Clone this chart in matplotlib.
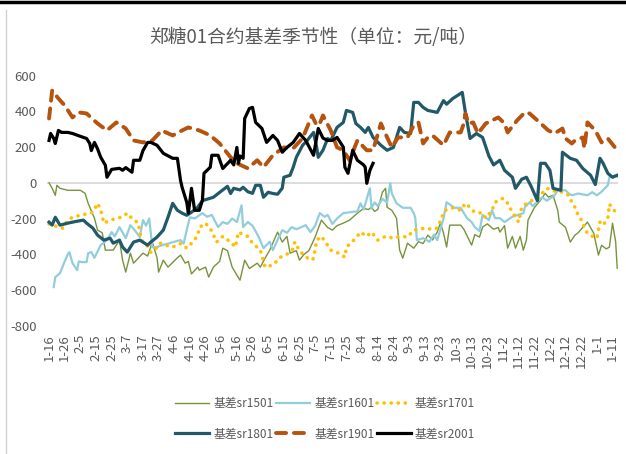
import matplotlib
matplotlib.use("Agg")
import matplotlib.pyplot as plt
from matplotlib.lines import Line2D

title = "郑糖01合约基差季节性（单位：元/吨）"
tick_labels = ["1-16", "1-26", "2-5", "2-15", "2-25", "3-7", "3-17", "3-27", "4-6", "4-16",
               "4-26", "5-6", "5-16", "5-26", "6-5", "6-15", "6-25", "7-5", "7-15", "7-25",
               "8-4", "8-14", "8-24", "9-3", "9-13", "9-23", "10-3", "10-13", "10-23", "11-2",
               "11-12", "11-22", "12-2", "12-12", "12-22", "1-1", "1-11"]
tick_days = list(range(0, 361, 10))
yticks = [600, 400, 200, 0, -200, -400, -600, -800]

# day offsets (days since 1-16) and basis values
sr1501_d = [0, 2, 4, 5, 7, 12, 20, 23, 25, 29, 31, 34, 36, 41, 45, 47, 49, 52, 54, 60, 63, 66, 69, 70,
            73, 76, 82, 84, 87, 89, 91, 95, 96, 100, 102, 105, 109, 111, 114, 117, 120, 122, 125,
            128, 133, 135, 138, 141, 146, 149, 152, 154, 158, 160, 163, 166, 170, 174, 178, 181,
            184, 188, 192, 197, 201, 204, 206, 208, 210, 213, 215, 216, 219, 222, 224, 226, 229,
            233, 236, 239, 242, 245, 248, 250, 252, 254, 256, 263, 265, 270, 272, 275, 277, 280,
            284, 287, 288, 291, 293, 296, 298, 301, 303, 305, 306, 310, 314, 317, 319, 322, 325,
            326, 330, 333, 336, 338, 344, 348, 351, 353, 356, 358, 360, 362, 363]
sr1501_v = [0, -31, -70, -14, -31, -42, -42, -59, -115, -198, -265, -280, -377, -377, -321, -433,
            -500, -394, -450, -394, -410, -332, -420, -500, -433, -472, -420, -405, -450, -440,
            -510, -472, -489, -472, -528, -472, -440, -366, -380, -472, -517, -545, -433, -480,
            -450, -472, -422, -377, -276, -332, -300, -394, -380, -433, -400, -380, -304, -209,
            -250, -265, -240, -226, -209, -170, -143, -150, -137, -160, -150, -53, -31, -137,
            -154, -198, -377, -422, -338, -366, -330, -340, -293, -320, -276, -226, -280, -360,
            -237, -237, -260, -349, -290, -304, -248, -230, -260, -250, -276, -240, -366, -300,
            -366, -300, -377, -320, -209, -140, -98, -59, -80, -70, -154, -220, -250, -332, -293,
            -280, -220, -282, -405, -350, -370, -360, -226, -330, -478]

sr1601_d = [3, 4, 7, 10, 12, 13, 15, 18, 19, 21, 24, 25, 27, 29, 33, 37, 40, 42, 45, 49, 52, 56, 58,
            60, 62, 64, 66, 69, 72, 77, 80, 84, 86, 89, 90, 93, 98, 101, 104, 108, 111, 114, 117,
            120, 123, 124, 127, 130, 134, 137, 141, 143, 146, 149, 152, 155, 158, 164, 167, 170,
            173, 176, 178, 181, 184, 188, 192, 197, 199, 201, 204, 205, 206, 208, 210, 213, 216,
            218, 219, 222, 226, 231, 233, 234, 235, 239, 243, 246, 248, 252, 254, 259, 263, 267,
            270, 272, 275, 277, 281, 283, 285, 288, 291, 296, 303, 304, 307, 309, 315, 318, 323,
            325, 330, 332, 334, 338, 344, 347, 350, 353, 357, 358, 362, 363]
sr1601_v = [-584, -528, -506, -440, -400, -388, -450, -489, -440, -444, -444, -394, -388, -420,
            -349, -321, -276, -300, -248, -310, -237, -280, -304, -209, -240, -200, -360, -360,
            -350, -338, -330, -321, -340, -226, -193, -200, -170, -190, -180, -248, -220, -230,
            -200, -220, -126, -248, -220, -240, -304, -366, -330, -377, -320, -265, -280, -248,
            -260, -237, -276, -240, -170, -190, -180, -230, -200, -170, -165, -160, -115, -150,
            -59, -31, -143, -110, -130, -90, -110, -3, -60, -115, -140, -140, -170, -198, -321,
            -310, -330, -290, -321, -200, -109, -140, -140, -198, -220, -248, -270, -180, -209,
            -154, -198, -198, -220, -190, -170, -137, -109, -130, -81, -100, -70, -42, -42, -60,
            -70, -60, -70, -53, -70, -50, -14, 31, 42, 35]

sr1701_d = [0, 3, 6, 9, 12, 15, 20, 26, 28, 31, 33, 35, 39, 43, 47, 50, 53, 57, 59, 63, 65, 68, 71,
            75, 79, 84, 88, 92, 95, 96, 100, 104, 107, 111, 116, 119, 121, 124, 127, 130, 135, 138,
            143, 148, 152, 156, 157, 160, 164, 168, 169, 171, 174, 178, 180, 184, 189, 190, 196,
            199, 203, 206, 210, 215, 220, 225, 229, 233, 240, 245, 248, 251, 253, 258, 263, 266,
            268, 270, 272, 277, 279, 283, 285, 290, 293, 296, 300, 302, 306, 312, 318, 322, 328,
            332, 334, 336, 338, 341, 342, 344, 348, 350, 351, 352, 354, 357, 358, 362]
sr1701_v = [-230, -237, -250, -254, -209, -193, -182, -170, -165, -115, -150, -226, -209, -200,
            -190, -170, -200, -226, -321, -355, -390, -370, -338, -350, -360, -340, -366, -330,
            -293, -250, -226, -270, -332, -300, -332, -360, -276, -290, -300, -338, -377, -472,
            -460, -416, -400, -370, -332, -380, -416, -433, -422, -321, -300, -350, -377, -390,
            -416, -360, -310, -276, -300, -276, -321, -300, -310, -300, -304, -265, -254, -260,
            -254, -193, -154, -140, -154, -115, -130, -150, -165, -170, -198, -154, -109, -87,
            -115, -165, -220, -137, -109, -87, -31, -45, -53, -70, -109, -137, -182, -220, -254,
            -282, -304, -310, -265, -220, -237, -198, -120, -165]

sr1801_d = [0, 2, 4, 7, 12, 18, 22, 24, 28, 31, 35, 39, 41, 45, 47, 50, 54, 58, 63, 65, 69, 73, 76,
            79, 82, 85, 88, 91, 95, 98, 105, 111, 114, 116, 118, 122, 124, 127, 130, 132, 135, 137,
            140, 143, 146, 149, 150, 154, 156, 158, 162, 165, 167, 169, 171, 172, 175, 178, 180,
            184, 188, 190, 194, 196, 199, 202, 204, 207, 212, 216, 220, 224, 227, 231, 233, 236,
            239, 242, 248, 252, 254, 258, 264, 266, 269, 273, 277, 281, 284, 288, 291, 296, 298,
            302, 305, 308, 312, 314, 317, 320, 322, 327, 328, 333, 337, 341, 346, 349, 352, 354,
            357, 360, 363]
sr1801_v = [-220, -237, -193, -237, -226, -215, -209, -226, -254, -293, -321, -310, -338, -321,
            -360, -388, -332, -321, -349, -332, -304, -265, -193, -115, -154, -170, -182, -165,
            -137, -100, -81, -40, -20, -60, -31, -40, -25, -50, -59, -14, -14, -81, -53, -60, -64,
            -30, 31, 42, 87, 143, 210, 237, 260, 282, 198, 143, 182, 248, 237, 310, 338, 405, 394,
            332, 310, 282, 310, 254, 210, 182, 198, 310, 282, 276, 450, 450, 422, 405, 394, 460,
            440, 472, 506, 394, 248, 276, 254, 150, 100, 126, 70, 31, -31, 20, 31, -20, -100, 109,
            109, 70, -31, -42, 171, 137, 126, 80, 42, -10, 137, 109, 53, 31, 42]

sr1901_d = [0, 2, 6, 10, 15, 19, 24, 31, 37, 43, 49, 54, 60, 66, 72, 79, 85, 89, 96, 103, 109, 116,
            120, 127, 133, 137, 143, 150, 156, 162, 168, 171, 173, 175, 180, 184, 188, 192, 197,
            203, 207, 212, 216, 219, 223, 229, 233, 236, 239, 242, 245, 252, 256, 263, 265, 266,
            268, 271, 274, 279, 283, 287, 291, 293, 299, 304, 307, 312, 319, 323, 328, 330, 334,
            336, 341, 342, 344, 349, 353, 357, 362]
sr1901_v = [360, 517, 472, 433, 366, 394, 388, 332, 293, 338, 304, 237, 226, 237, 293, 265, 293,
            310, 293, 265, 220, 143, 109, 81, 126, 87, 154, 198, 193, 249, 377, 321, 332, 377, 293,
            198, 182, 126, 237, 182, 182, 332, 254, 198, 254, 254, 321, 338, 220, 254, 265, 210,
            282, 282, 332, 388, 332, 338, 276, 332, 349, 366, 332, 282, 349, 394, 388, 349, 293,
            276, 304, 248, 220, 237, 254, 193, 338, 293, 226, 248, 193]

sr2001_d = [0, 1, 3, 4, 6, 8, 12, 15, 20, 24, 26, 27, 29, 31, 33, 36, 37, 40, 45, 47, 49, 53, 54, 58,
            60, 63, 65, 69, 73, 79, 82, 84, 85, 88, 89, 91, 93, 96, 98, 99, 103, 104, 108, 111, 116,
            118, 120, 121, 122, 124, 125, 128, 130, 132, 136, 139, 143, 146, 149, 152, 156, 160,
            164, 169, 172, 175, 178, 181, 184, 188, 189, 191, 194, 197, 201, 202, 203, 205, 207]
sr2001_v = [237, 276, 248, 220, 293, 282, 282, 276, 260, 248, 220, 180, 226, 190, 143, 98, 31, 75,
            81, 70, 85, 59, 126, 126, 180, 226, 226, 210, 165, 137, 137, 14, -25, -110, -170, -31,
            -154, -154, -98, 53, 87, 154, 154, 80, 126, 100, 198, 109, 150, 137, 360, 416, 422, 338,
            304, 226, 265, 237, 171, 198, 226, 276, 237, 154, 304, 250, 237, 237, 254, 200, 87, 53,
            182, 126, 100, 87, -3, 70, 109]

series = [
    ("基差sr1501", sr1501_d, sr1501_v, dict(color="#77933C", lw=1.0, ls="-")),
    ("基差sr1601", sr1601_d, sr1601_v, dict(color="#92CDDC", lw=1.6, ls="-")),
    ("基差sr1701", sr1701_d, sr1701_v, dict(color="#FFC000", lw=2.6, ls=(0, (0.05, 1.9)),
                                           dash_capstyle="round")),
    ("基差sr1801", sr1801_d, sr1801_v, dict(color="#215968", lw=2.3, ls="-")),
    ("基差sr1901", sr1901_d, sr1901_v, dict(color="#B5530F", lw=2.8, ls=(0, (2.6, 2.0)),
                                           dash_capstyle="round")),
    ("基差sr2001", sr2001_d, sr2001_v, dict(color="#000000", lw=2.3, ls="-")),
]

gray = "#595959"
latin = ["Liberation Sans Narrow", "Noto Sans CJK SC", "DejaVu Sans"]
plt.rcParams["font.family"] = latin

fig = plt.figure(figsize=(6.26, 4.54), dpi=100)
ax = fig.add_axes([47 / 626, 1 - 325.7 / 454, (618 - 47) / 626, (325.7 - 75.6) / 454])

ax.axhline(0, color="#D9D9D9", lw=1.3, zorder=1)
handles = []
for name, d, v, st in series:
    h, = ax.plot(d, v, label=name, solid_joinstyle="round", zorder=3, **st)
    handles.append(h)

ax.set_xlim(-1.3, 363.5)
ax.set_ylim(-800, 600)
ax.set_yticks(yticks)
ax.set_yticklabels([str(t) for t in yticks])
ax.set_xticks(tick_days)
ax.set_xticklabels(tick_labels, rotation=90, va="top", ha="center")
ax.tick_params(axis="y", length=0, pad=7.5, labelsize=9.5, labelcolor=gray)
ax.tick_params(axis="x", length=0, pad=6, labelsize=9.5, labelcolor=gray)
for s in ax.spines.values():
    s.set_visible(False)

fig.text(0.5, 1 - 37 / 454, title, ha="center", va="center", fontsize=13.5, color=gray,
         family=["Noto Sans CJK SC", "DejaVu Sans"])

# row-wise legend order (matplotlib fills columns first)
order = [0, 3, 1, 4, 2, 5]
leg = fig.legend([handles[i] for i in order], [series[i][0] for i in order],
                 loc="center", bbox_to_anchor=(325 / 626, 1 - 419 / 454), ncol=3, frameon=False,
                 fontsize=8.5, handlelength=2.9, handletextpad=0.35, columnspacing=0.2,
                 labelspacing=1.45, borderpad=0)
for t in leg.get_texts():
    t.set_color(gray)

# chart border bits
fig.add_artist(Line2D([0, 1], [1 - 1.5 / 454, 1 - 1.5 / 454], color="black", lw=2.5))
fig.add_artist(Line2D([6 / 626, 6 / 626], [0, 1 - 10 / 454], color="#D0D0D0", lw=1.0))

fig.savefig("out.png", dpi=100)
